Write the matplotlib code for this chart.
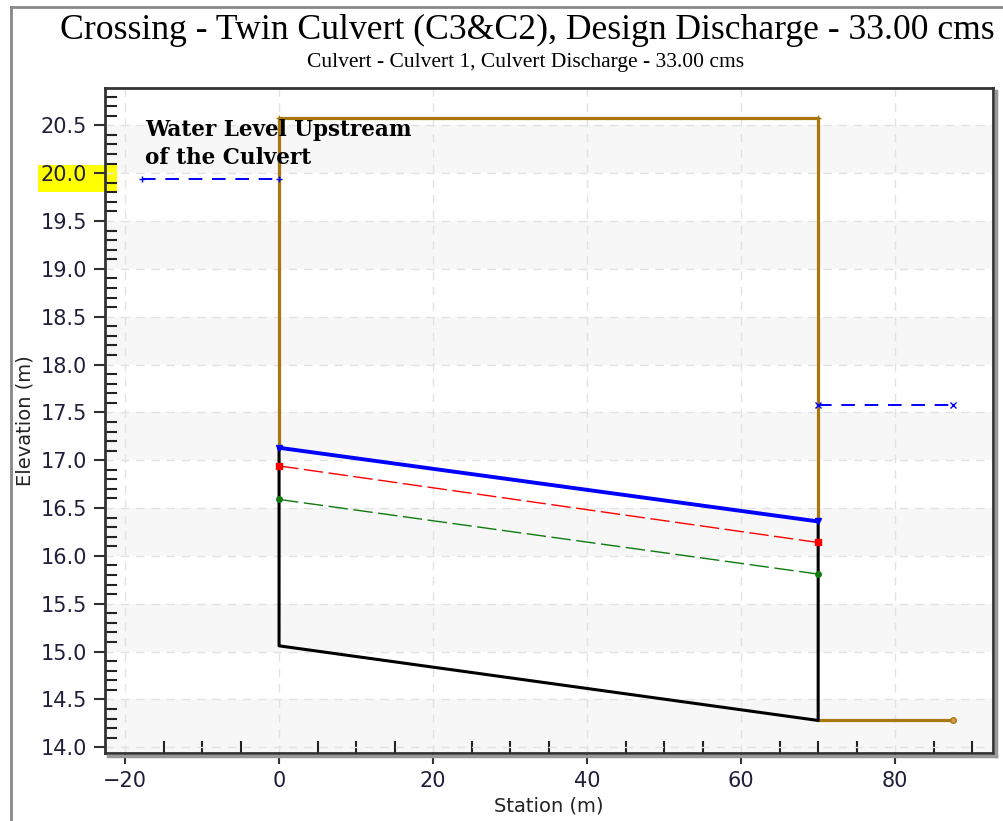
import numpy as np
import matplotlib
matplotlib.use("Agg")
import matplotlib.pyplot as plt
from matplotlib.patches import Rectangle
from matplotlib.ticker import MultipleLocator, FormatStrFormatter

# 数据
road_x = [0, 0, 70, 70]
road_y = [17.13, 20.58, 20.58, 16.36]
tail_x = [70, 87.5]
tail_y = [14.28, 14.28]
culvert_x = [0, 0, 70, 70]
culvert_y = [17.13, 15.06, 14.28, 16.36]
crown_x = [0, 70]
crown_y = [17.13, 16.36]
red_x = [0, 70]
red_y = [16.94, 16.14]
green_x = [0, 70]
green_y = [16.59, 15.81]
hw_x = [-17.8, 0]
hw_y = [19.94, 19.94]
tw_x = [70, 87.5]
tw_y = [17.58, 17.58]

title = "Crossing - Twin Culvert (C3&C2), Design Discharge - 33.00 cms"
subtitle = "Culvert - Culvert 1, Culvert Discharge - 33.00 cms"
note = "Water Level Upstream\nof the Culvert"

brown = "#A8780F"
tick_color = "#1f1f3a"

fig = plt.figure(figsize=(10.04, 8.21), dpi=100)
W, H = 1004, 821
ax = fig.add_axes([105 / W, 1 - 753 / H, (993 - 105) / W, (753 - 88) / H])
ax.set_facecolor("white")
ax.set_xlim(-22.6, 92.7)
ax.set_ylim(13.94, 20.89)

# 背景条纹
ax.axhspan(13.94, 14.5, color="#f7f7f7", lw=0, zorder=0)
for y0 in np.arange(15.0, 20.5, 1.0):
    ax.axhspan(y0, y0 + 0.5, color="#f7f7f7", lw=0, zorder=0)

ax.grid(True, which="major", color="#e2e2e2", linestyle=(0, (6, 5)), lw=1.0)
ax.set_axisbelow("line")

# 画线
ax.plot(road_x, road_y, color=brown, lw=2.3, zorder=3)
ax.plot(road_x[1:3], road_y[1:3], color=brown, lw=0, marker="+", ms=5, zorder=3)
ax.plot(tail_x, tail_y, color=brown, lw=2.3, zorder=3)
ax.plot(tail_x[-1], tail_y[-1], color=brown, marker="o", ms=4, mfc="#d0a050", zorder=3)
ax.plot(culvert_x, culvert_y, color="black", lw=2.2, zorder=4)
ax.plot(red_x, red_y, color="red", lw=1.0, dashes=(14, 4), marker="s", ms=5, zorder=4)
ax.plot(green_x, green_y, color="#0f7a0f", lw=1.0, dashes=(14, 4), marker="o", ms=4, zorder=4)
ax.plot(crown_x, crown_y, color="blue", lw=2.8, marker="v", ms=5, zorder=5)
ax.plot(hw_x, hw_y, color="blue", lw=1.4, dashes=(7, 5), marker="+", ms=5, zorder=5)
ax.plot(tw_x, tw_y, color="blue", lw=1.4, dashes=(7, 5), marker="x", ms=4, zorder=5)

ax.text(-17.4, 20.57, note, fontsize=15.5, fontweight="bold", family="DejaVu Serif",
        va="top", ha="left", zorder=6, linespacing=1.4)

# 坐标轴
ax.xaxis.set_major_locator(MultipleLocator(20))
ax.xaxis.set_minor_locator(MultipleLocator(5))
ax.yaxis.set_major_locator(MultipleLocator(0.5))
ax.yaxis.set_minor_locator(MultipleLocator(0.1))
ax.yaxis.set_major_formatter(FormatStrFormatter("%.1f"))
ax.set_xticks(np.arange(-20, 81, 20))
ax.set_yticks(np.arange(14.0, 20.51, 0.5))
ax.tick_params(which="major", direction="out", length=8, width=1.5, color="#333333",
               labelsize=15, labelcolor=tick_color, pad=5)
ax.tick_params(which="minor", direction="in", length=8.5, width=1.5, color="#222222")
for s in ax.spines.values():
    s.set_color("#333333")
    s.set_linewidth(2)

ax.set_xlabel("Station (m)", fontsize=14, color="#222222", labelpad=4)
ax.set_ylabel("Elevation (m)", fontsize=14, color="#222222", labelpad=4)

# 20.0 高亮
ax.add_patch(Rectangle((38 / W, 1 - 192 / H), 79 / W, 27 / H, transform=fig.transFigure,
                       facecolor="#ffff00", edgecolor="none", clip_on=False, zorder=1))

# 阴影和窗口边框
fig.add_artist(plt.Line2D([996 / W, 996 / W], [1 - 756 / H, 1 - 91 / H], color="#999999", lw=2.5))
fig.add_artist(plt.Line2D([108 / W, 996 / W], [1 - 756 / H, 1 - 756 / H], color="#999999", lw=2.5))
fig.add_artist(plt.Line2D([11.5 / W, 11.5 / W], [0, 1 - 7 / H], color="#888888", lw=2))
fig.add_artist(plt.Line2D([11.5 / W, 1], [1 - 7 / H, 1 - 7 / H], color="#888888", lw=2))

fig.text(527 / W, 1 - 30 / H, title, fontsize=25.7, family="Liberation Serif", ha="center", va="center")
fig.text(526 / W, 1 - 62 / H, subtitle, fontsize=15.5, family="Liberation Serif", ha="center", va="center")

fig.savefig("out.png", dpi=100)
